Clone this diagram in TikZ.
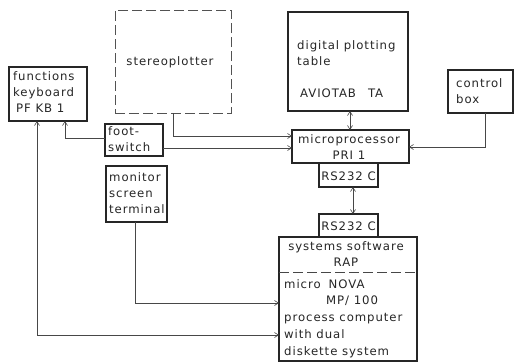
\documentclass[tikz,border=0pt]{standalone}
\usepackage{fontspec}
\setmainfont{DejaVu Sans}
\newfontfamily\letterfont[LetterSpace=8]{DejaVu Sans}
\usetikzlibrary{arrows.meta}
\definecolor{ink}{gray}{0.15}
\begin{document}
\begin{tikzpicture}[x=1pt,y=-1pt,
  box/.style={draw=ink, line width=1.4pt, inner sep=0pt, outer sep=0pt},
  dbox/.style={draw=ink!80, line width=0.6pt, dash pattern=on 10pt off 4pt, inner sep=0pt, outer sep=0pt},
  txt/.style={inner sep=0pt, text=ink, align=left, font=\letterfont\fontsize{11.7}{16}\selectfont},
  ctxt/.style={txt, align=center},
  conn/.style={draw=ink!85, line width=0.6pt},
  arr/.style={conn, -{Straight Barb[length=4pt,width=5pt]}},
  dbl/.style={conn, {Straight Barb[length=4pt,width=5pt]}-{Straight Barb[length=4pt,width=5pt]}}
]
\useasboundingbox (0,0) rectangle (515,362);
\fill[white] (0,0) rectangle (515,362);

% boxes
\node[box, minimum width=78pt, minimum height=54pt] (kb) at (48,94) {};
\node[box, minimum width=58pt, minimum height=32pt] (fs) at (134,140) {};
\node[box, minimum width=61pt, minimum height=56pt] (mon) at (136.5,194) {};
\node[dbox, minimum width=116pt, minimum height=103pt] (stereo) at (173,61.5) {};
\node[box, minimum width=120pt, minimum height=99pt] (dpt) at (348,61.5) {};
\node[box, minimum width=65pt, minimum height=43pt] (cb) at (480.5,91.5) {};
\node[box, minimum width=117pt, minimum height=33pt] (mp) at (350.5,146.5) {};
\node[box, minimum width=59pt, minimum height=24pt] (rsa) at (348.5,175) {};
\node[box, minimum width=59pt, minimum height=23pt] (rsb) at (348.5,225.5) {};
\node[box, minimum width=138pt, minimum height=124pt] (sys) at (348,299) {};
\draw[conn, dash pattern=on 10pt off 4pt] (sys.west |- 0,272) coordinate (dl) -- (sys.east |- dl);

% texts
\node[txt, anchor=west] (tkb) at (13,92.5) {functions\\keyboard\\\hspace*{3pt}PF KB 1};
\node[txt, anchor=west] (tfs) at (108,139) {foot-\\switch};
\node[txt, anchor=west] (tmon) at (109,193) {monitor\\screen\\terminal};
\node[ctxt] (tst) at (170,62) {stereoplotter};
\node[txt, anchor=west] (tdpt) at (297,53.5) {digital plotting\\table};
\node[txt, anchor=west] (tav) at (300,93) {AVIOTAB\hspace{12pt}TA};
\node[txt, anchor=west] (tcb) at (456,91.5) {control\\box};
\node[ctxt] (tmp) at (349,147) {microprocessor\\PRI 1};
\node[ctxt] (trsa) at (348.5,176) {RS232 C};
\node[ctxt] (trsb) at (348.5,226) {RS232 C};
\node[ctxt] (tsys) at (346,254.5) {systems software\\RAP};
\node[txt, anchor=west, font=\letterfont\fontsize{11.7}{16.75}\selectfont] (tnova) at (284,318.5)
  {micro\hspace{8pt}NOVA\\\hspace*{42pt}MP/ 100\\process computer\\with dual\\diskette system};

% connectors
\coordinate (kbl) at (37,335);
\draw[dbl] (kb.south -| kbl) -- (kbl) -- (sys.west |- kbl);
\coordinate (fsk) at (65,138);
\draw[arr] (fs.west |- fsk) -- (fsk) -- (kb.south -| fsk);
\coordinate (fsm) at (163,148);
\draw[arr] (fs.east |- fsm) -- (mp.west |- fsm);
\coordinate (stm) at (173,136);
\draw[arr] (stereo.south -| stm) -- (stm) -- (mp.west |- stm);
\coordinate (dm) at (350,120);
\draw[dbl] (dpt.south -| dm) -- (mp.north -| dm);
\coordinate (cbm) at (485,147);
\draw[arr] (cb.south -| cbm) -- (cbm) -- (mp.east |- cbm);
\coordinate (rsx) at (353,200);
\draw[dbl] (rsa.south -| rsx) -- (rsb.north -| rsx);
\coordinate (mo) at (135,303);
\draw[arr] (mon.south -| mo) -- (mo) -- (sys.west |- mo);
\end{tikzpicture}
\end{document}
